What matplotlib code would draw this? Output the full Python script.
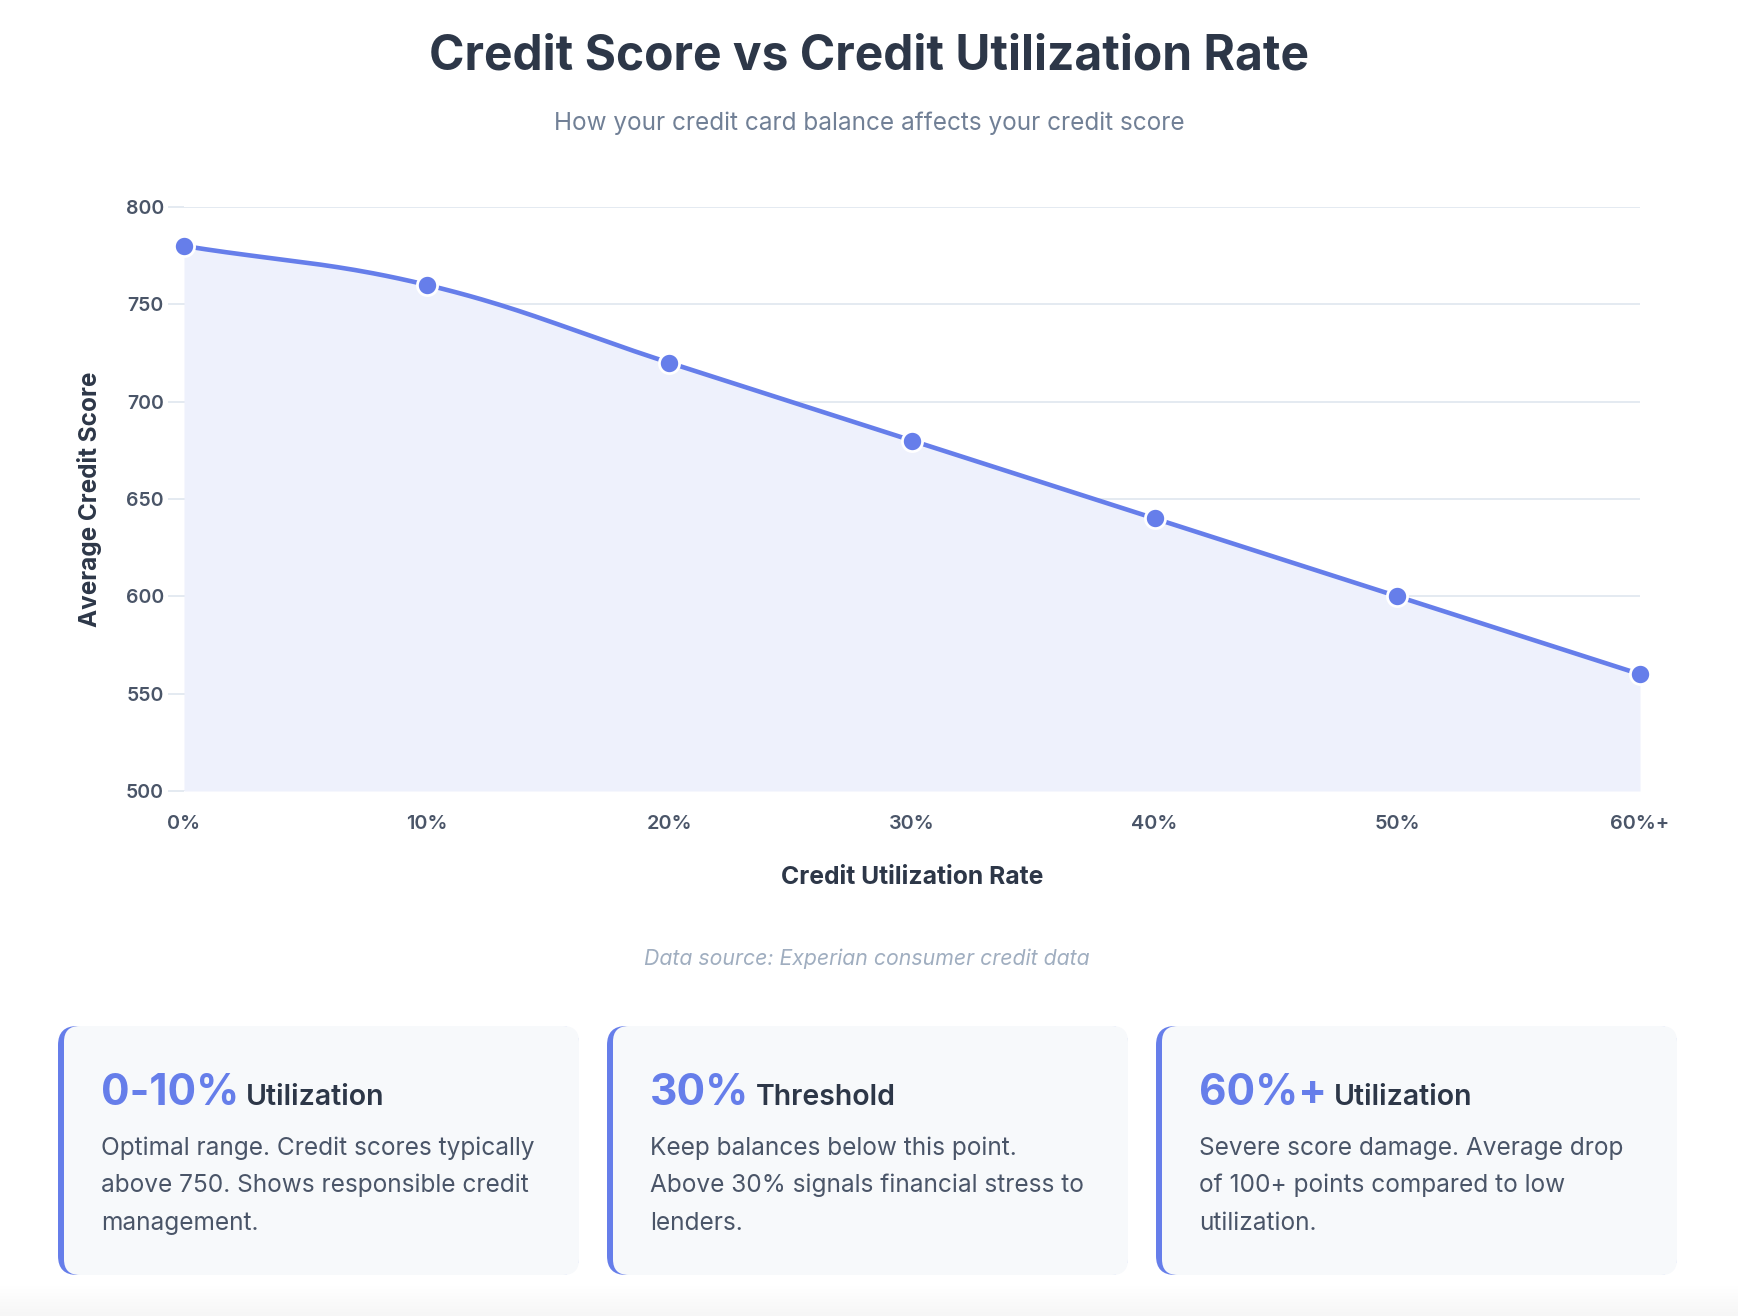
import numpy as np
import matplotlib
matplotlib.use("Agg")
import matplotlib.pyplot as plt
from matplotlib.patches import FancyBboxPatch, Rectangle

# chart data
utilization = ["0%", "10%", "20%", "30%", "40%", "50%", "60%+"]
avg_score = [780, 760, 720, 680, 640, 600, 560]
y_ticks = [500, 550, 600, 650, 700, 750, 800]

# info cards
card_big = ["0-10%", "30%", "60%+"]
card_small = ["Utilization", "Threshold", "Utilization"]
card_body = [
    ["Optimal range. Credit scores typically", "above 750. Shows responsible credit", "management."],
    ["Keep balances below this point.", "Above 30% signals financial stress to", "lenders."],
    ["Severe score damage. Average drop", "of 100+ points compared to low", "utilization."],
]

plt.rcParams['font.family'] = ['Inter', 'DejaVu Sans']

W, H = 1738, 1316
BLUE = "#667eea"
DARK = "#2d3748"
MID = "#4a5568"

fig = plt.figure(figsize=(W / 100, H / 100), dpi=100)
fig.patch.set_facecolor("white")


def fx(x):
    return x / W


def fy(y):
    # y measured from the top of the image in pixels
    return 1 - y / H


# light grey fade at the very bottom of the page
for k in range(30):
    g = 1 - 0.035 * (k / 29)
    fig.patches.append(Rectangle((0, fy(1285 + k)), 1, 1 / H * 1.5, transform=fig.transFigure,
                                 color=(g, g, g), lw=0, zorder=0))
fig.patches.append(Rectangle((0, 0), 1, fy(1314), transform=fig.transFigure,
                             color=(0.965, 0.965, 0.965), lw=0, zorder=0))

# titles
fig.text(0.5, fy(57), "Credit Score vs Credit Utilization Rate", ha="center", va="center",
         fontsize=34.5, fontweight="bold", color=DARK)
fig.text(0.5, fy(123), "How your credit card balance affects your credit score", ha="center",
         va="center", fontsize=17.5, color="#718096")

# main axes
left, right, top, bottom = 184, 1640, 207, 791
ax = fig.add_axes([fx(left), fy(bottom), fx(right - left), (bottom - top) / H])
ax.set_xlim(0, len(utilization) - 1)
ax.set_ylim(y_ticks[0], y_ticks[-1])
ax.set_facecolor("none")
for s in ax.spines.values():
    s.set_visible(False)
ax.set_yticks(y_ticks)
ax.set_xticks(range(len(utilization)))
ax.set_xticklabels(utilization)
ax.grid(axis="y", color="#e2e8f0", lw=1.3)
ax.set_axisbelow(True)
ax.tick_params(axis="y", length=11.5, width=1.3, color="#e2e8f0", pad=3,
               labelsize=14, labelcolor=MID)
ax.tick_params(axis="x", length=0, pad=17, labelsize=14.3, labelcolor=MID)
for lab in ax.get_xticklabels() + ax.get_yticklabels():
    lab.set_fontweight("semibold")

ax.set_ylabel("Average Credit Score", fontsize=17.5, fontweight="bold", color=DARK, labelpad=17)
ax.set_xlabel("Credit Utilization Rate", fontsize=17.8, fontweight="bold", color=DARK, labelpad=24)


# Chart.js style spline (tension 0.4) worked out in pixel space
def smooth_line(xs, ys, tension=0.4, n=40):
    pts = ax.transData.transform(np.column_stack([xs, ys]))
    m = len(pts)
    cp_prev, cp_next = [], []
    for i in range(m):
        cur = pts[i]
        prev = pts[i - 1] if i > 0 else cur
        nxt = pts[i + 1] if i < m - 1 else cur
        d01 = np.hypot(*(cur - prev))
        d12 = np.hypot(*(nxt - cur))
        tot = d01 + d12
        s01 = d01 / tot if tot else 0
        s12 = d12 / tot if tot else 0
        cp_prev.append(cur - tension * s01 * (nxt - prev))
        cp_next.append(cur + tension * s12 * (nxt - prev))
    t = np.linspace(0, 1, n)[:, None]
    segs = []
    for i in range(m - 1):
        p0, p1, p2, p3 = pts[i], cp_next[i], cp_prev[i + 1], pts[i + 1]
        b = ((1 - t) ** 3) * p0 + 3 * ((1 - t) ** 2) * t * p1 + 3 * (1 - t) * t ** 2 * p2 + t ** 3 * p3
        segs.append(b if i == 0 else b[1:])
    curve = ax.transData.inverted().transform(np.vstack(segs))
    return curve[:, 0], curve[:, 1]


xs = np.arange(len(utilization))
cx, cy = smooth_line(xs, avg_score)
ax.fill_between(cx, cy, y_ticks[0], color="#eef1fc", lw=0, zorder=1)
ax.plot(cx, cy, color=BLUE, lw=3.3, zorder=3, solid_capstyle="round", clip_on=False)
ax.plot(xs, avg_score, "o", ms=14.5, color=BLUE, mec="white", mew=2, zorder=4, clip_on=False)

# source note
fig.text(fx(867), fy(959), "Data source: Experian consumer credit data", ha="center", va="center",
         fontsize=15.3, style="italic", color="#a0aec0")

# cards
card_x = [58, 607, 1156]
card_w = 521
card_top, card_bot = 1026, 1275
fig.canvas.draw()
renderer = fig.canvas.get_renderer()
for i in range(3):
    x0 = card_x[i]
    blue = FancyBboxPatch((fx(x0), fy(card_bot)), fx(card_w), (card_bot - card_top) / H,
                          boxstyle="round,pad=0,rounding_size=0.011", transform=fig.transFigure,
                          fc=BLUE, ec="none", zorder=1, mutation_aspect=W / H)
    bg = FancyBboxPatch((fx(x0 + 6), fy(card_bot)), fx(card_w - 6), (card_bot - card_top) / H,
                        boxstyle="round,pad=0,rounding_size=0.009", transform=fig.transFigure,
                        fc="#f7f9fb", ec="none", zorder=2, mutation_aspect=W / H)
    fig.patches.append(blue)
    fig.patches.append(bg)

    tx = x0 + 43
    big = fig.text(fx(tx), fy(1105), card_big[i], ha="left", va="baseline", fontsize=30.5,
                   fontweight="bold", color=BLUE, zorder=3)
    bb = big.get_window_extent(renderer)
    fig.text(fx(bb.x1 + 7), fy(1105), card_small[i], ha="left", va="baseline", fontsize=20.5,
             fontweight="semibold", color=DARK, zorder=3)
    for j, line in enumerate(card_body[i]):
        fig.text(fx(tx), fy(1148 + j * 37.7), line, ha="left", va="center", fontsize=17.6,
                 color=MID, zorder=3)

fig.savefig("out.png", dpi=100)
